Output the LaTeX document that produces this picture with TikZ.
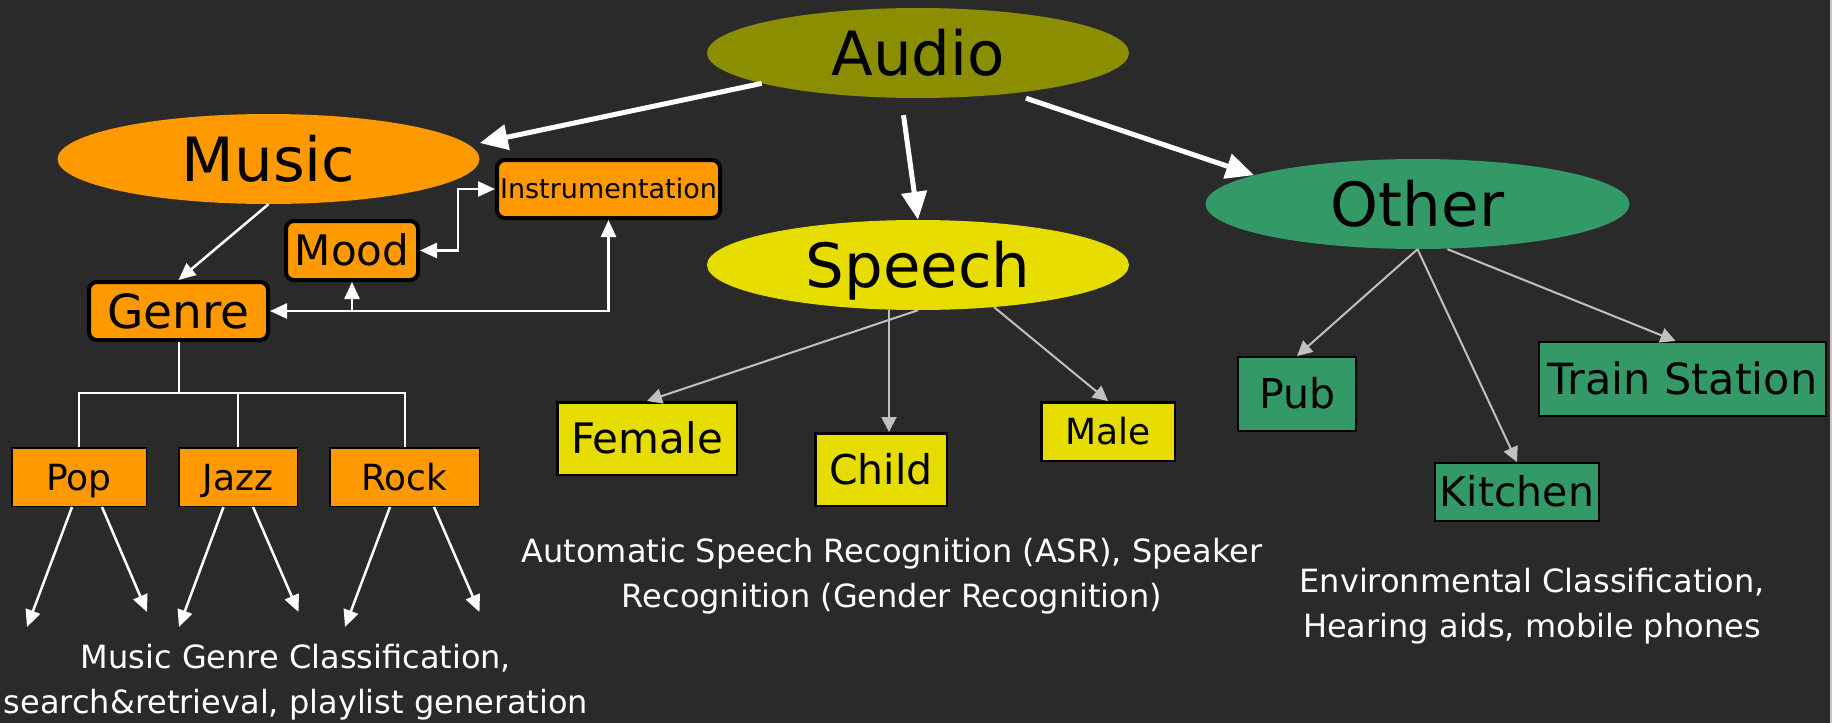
\documentclass[tikz,border=0pt]{standalone}
\usepackage{fontspec}
\setmainfont{DejaVu Sans}
\usetikzlibrary{shapes.geometric,arrows.meta}

\definecolor{bggray}{HTML}{2A2A2A}
\definecolor{edgegray}{HTML}{C8C8C8}
\definecolor{audioolive}{HTML}{8A8E00}
\definecolor{musicorange}{HTML}{FF9900}
\definecolor{speechyellow}{HTML}{E6DC00}
\definecolor{othergreen}{HTML}{339966}
\definecolor{arrowgray}{HTML}{C0C0C0}

\tikzset{
	fs/.style={font=\fontsize{#1}{#1}\selectfont, text height=0.73*#1pt, text depth=0pt},
	topic/.style={shape=ellipse, fill=#1, minimum width=422pt, minimum height=90pt, inner sep=0pt, fs=61},
	facet/.style={draw=black, line width=4pt, rounded corners=8pt, fill=musicorange, inner sep=0pt},
	leaf/.style={draw=black, line width=#1, inner sep=0pt},
	bigarrow/.style={draw=white, line width=5pt, -{Triangle[length=28pt,width=25pt]}},
	whitearrow/.style={draw=white, line width=2.5pt, -{Triangle[length=17pt,width=15pt]}},
	whiteboth/.style={draw=white, line width=2.5pt, {Triangle[length=17pt,width=15pt]}-{Triangle[length=17pt,width=15pt]}},
	grayarrow/.style={draw=arrowgray, line width=2pt, -{Triangle[length=15pt,width=15pt]}},
	treeline/.style={draw=white, line width=2pt},
	note/.style={text=white, align=center, inner sep=0pt, anchor=north, font=\fontsize{32}{45}\selectfont}
}

\begin{document}
\begin{tikzpicture}[x=1pt, y=-1pt]
	\fill[bggray] (0,0) rectangle (1832,723);
	\useasboundingbox (0,0) rectangle (1832,723);
	\fill[edgegray] (1829.5,0) rectangle (1832,723);

	% main classes
	\node[topic=audioolive]   (Audio)  at (918, 53)    {Audio};
	\node[topic=musicorange]  (Music)  at (268.5, 159) {Music};
	\node[topic=speechyellow] (Speech) at (918, 265)   {Speech};
	\node[topic=othergreen, minimum width=424pt] (Other) at (1417.5, 204) {Other};

	% music
	\node[facet, fs=27, minimum width=223pt, minimum height=58pt] (Instrumentation) at (608.5, 189) {Instrumentation};
	\node[facet, fs=42, minimum width=132pt, minimum height=59pt] (Mood)  at (352, 250.5) {Mood};
	\node[facet, fs=47, minimum width=179pt, minimum height=58pt] (Genre) at (178.5, 311) {Genre};
	\node[leaf=1.5pt, fill=musicorange, fs=36, minimum width=134.5pt, minimum height=58.5pt] (Pop)  at (79, 477)    {Pop};
	\node[leaf=1.5pt, fill=musicorange, fs=36, minimum width=118.5pt, minimum height=58.5pt] (Jazz) at (238, 477)   {Jazz};
	\node[leaf=1.5pt, fill=musicorange, fs=36, minimum width=149.5pt, minimum height=58.5pt] (Rock) at (404.5, 477) {Rock};

	% speech
	\node[leaf=2.5pt, fill=speechyellow, fs=42, minimum width=179.5pt, minimum height=72.5pt] (Female) at (647, 438.5)  {Female};
	\node[leaf=2.5pt, fill=speechyellow, fs=41, minimum width=131.5pt, minimum height=72.5pt] (Child)  at (881, 469.5)  {Child};
	\node[leaf=2.5pt, fill=speechyellow, fs=36, minimum width=133.5pt, minimum height=58.5pt] (Male)   at (1108, 431.5) {Male};

	% other
	\node[leaf=2pt, fill=othergreen, fs=41, minimum width=118pt, minimum height=74pt] (Pub)          at (1297, 394)   {Pub};
	\node[leaf=2pt, fill=othergreen, fs=41, minimum width=164pt, minimum height=58pt] (Kitchen)      at (1517, 492)   {Kitchen};
	\node[leaf=2pt, fill=othergreen, fs=43, minimum width=287pt, minimum height=74pt] (TrainStation) at (1682.5, 379) {Train Station};

	% applications
	\node[note] (musicnote)  at (296, 644)  {Music Genre Classification,\\search\&retrieval, playlist generation};
	\node[note] (speechnote) at (892, 538)  {Automatic Speech Recognition (ASR), Speaker\\Recognition (Gender Recognition)};
	\node[note] (othernote)  at (1532, 568) {Environmental Classification,\\Hearing aids, mobile phones};

	% free ends
	\coordinate (bend) at (458, 0);
	\coordinate (bus)  at (178.5, 393);
	\coordinate (fork) at (Mood.south |- Genre.east);
	\coordinate (popL)  at (27, 627);
	\coordinate (popR)  at (147, 612);
	\coordinate (jazzL) at (179, 627);
	\coordinate (jazzR) at (298.5, 612);
	\coordinate (rockL) at (345, 627);
	\coordinate (rockR) at (479.5, 612);

	\draw[bigarrow] (Audio.191) -- ([yshift=16]Music.east);
	\draw[bigarrow] ([xshift=-14.5,yshift=-17]Audio.south) -- (Speech.north);
	\draw[bigarrow] ([xshift=108]Audio.south) -- (Other.170);

	\draw[whitearrow] (Music.south) -- (Genre.north);
	\draw[whiteboth] (Mood.east) -- (Mood.east -| bend) |- (Instrumentation.west);
	\draw[whiteboth] (Genre.east) -| (Instrumentation.south);
	\draw[whitearrow] (fork) -- (Mood.south);

	\draw[treeline] (Genre.south) -- (bus) -| (Pop.north);
	\draw[treeline] (bus) -| (Jazz.north);
	\draw[treeline] (bus) -| (Rock.north);

	\draw[whitearrow] ([xshift=-7]Pop.south) -- (popL);
	\draw[whitearrow] ([xshift=23]Pop.south) -- (popR);
	\draw[whitearrow] ([xshift=-14.5]Jazz.south) -- (jazzL);
	\draw[whitearrow] ([xshift=15]Jazz.south) -- (jazzR);
	\draw[whitearrow] ([xshift=-14.5]Rock.south) -- (rockL);
	\draw[whitearrow] ([xshift=29.5]Rock.south) -- (rockR);

	\draw[grayarrow] (Speech.south) -- (Female.north);
	\draw[grayarrow] ([xshift=-29]Speech.south) -- ([xshift=8]Child.north);
	\draw[grayarrow] (Speech.-29) -- (Male.north);

	\draw[grayarrow] (Other.south) -- (Pub.north);
	\draw[grayarrow] (Other.south) -- (Kitchen.north);
	\draw[grayarrow] ([xshift=30]Other.south) -- ([xshift=-7]TrainStation.north);
\end{tikzpicture}
\end{document}
